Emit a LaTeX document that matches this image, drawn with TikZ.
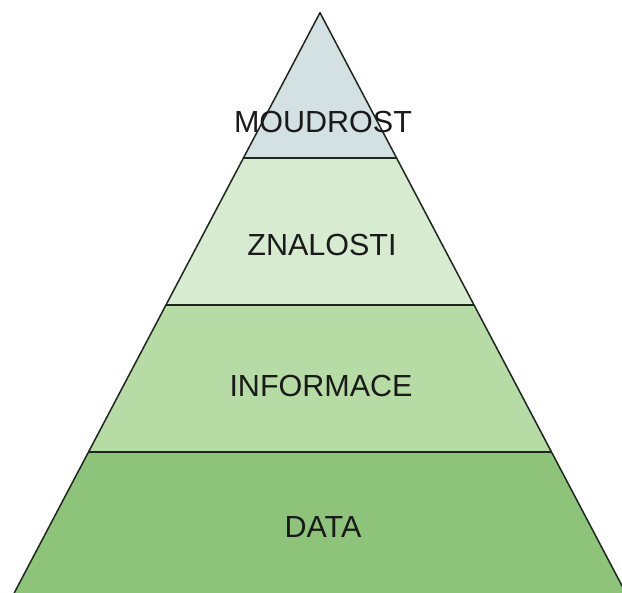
\documentclass[tikz,border=0pt]{standalone}
\usepackage{fontspec}
\setmainfont{Liberation Sans}
\definecolor{wisdomfill}{HTML}{D3E1E3}
\definecolor{knowfill}{HTML}{D6EBCF}
\definecolor{infofill}{HTML}{B6DBA4}
\definecolor{datafill}{HTML}{8DC47A}
\definecolor{edgecol}{HTML}{1E261E}
\definecolor{labelcol}{HTML}{1A1A1A}
\tikzset{
  layeredge/.style={draw=edgecol, line width=1.5pt, line join=round},
  layerlabel/.style={text=labelcol, font=\fontsize{30.5}{36}\selectfont, inner sep=0pt, anchor=center}
}
\begin{document}
\begin{tikzpicture}[x=1pt,y=1pt]
  \useasboundingbox (0,0) rectangle (622,593);
  \clip (0,0) rectangle (622,593);
  % apex and layer boundaries (edge slope 0.527 horizontally per unit of height)
  \coordinate (apex) at (320,580.3);
  \coordinate (w1l) at (243.4,435);  \coordinate (w1r) at (396.6,435);
  \coordinate (k1l) at (165.9,288);  \coordinate (k1r) at (474.1,288);
  \coordinate (i1l) at (88.5,141);   \coordinate (i1r) at (551.5,141);
  \coordinate (d1l) at (14.2,0);     \coordinate (d1r) at (625.8,0);
  % layer fills
  \fill[datafill] (i1l) -- (i1r) -- (d1r) -- (d1l) -- cycle;
  \fill[infofill] (k1l) -- (k1r) -- (i1r) -- (i1l) -- cycle;
  \fill[knowfill] (w1l) -- (w1r) -- (k1r) -- (k1l) -- cycle;
  \fill[wisdomfill] (apex) -- (w1r) -- (w1l) -- cycle;
  % outline and dividers
  \draw[layeredge] (d1l) -- (apex) -- (d1r);
  \draw[layeredge] (w1l) -- (w1r);
  \draw[layeredge] (k1l) -- (k1r);
  \draw[layeredge] (i1l) -- (i1r);
  % labels
  \node[layerlabel] (moudrost) at (323,471) {MOUDROST};
  \node[layerlabel] (znalosti) at (322,348) {ZNALOSTI};
  \node[layerlabel] (informace) at (321,207) {INFORMACE};
  \node[layerlabel] (data) at (323,66) {DATA};
\end{tikzpicture}
\end{document}
